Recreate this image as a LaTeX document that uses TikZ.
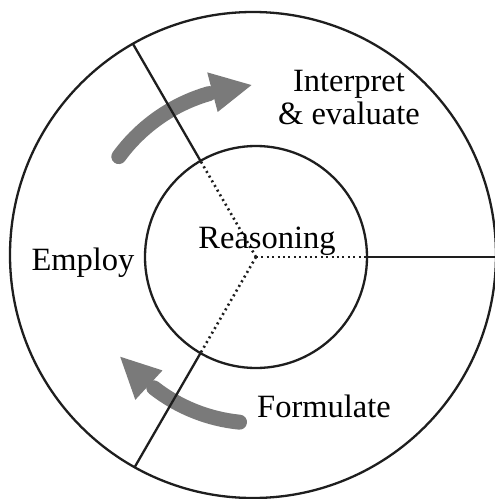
\documentclass[tikz,border=0pt]{standalone}
\usepackage{fontspec}
\setmainfont{Liberation Serif}
\definecolor{arrowgray}{RGB}{122,122,122}
\definecolor{inkline}{RGB}{30,30,30}
\begin{document}
\begin{tikzpicture}[x=1pt,y=1pt,
  ring/.style={draw=inkline, line width=2.3pt, circle, inner sep=0pt},
  spoke/.style={draw=inkline, line width=2.3pt},
  dots/.style={draw=inkline, line width=2.6pt, dash pattern=on 2pt off 3.4pt},
  flow/.style={draw=arrowgray, line width=15pt, line cap=round},
  flowhead/.style={fill=arrowgray, draw=none},
  lbl/.style={font=\fontsize{32.5}{33}\selectfont, inner sep=0pt, text=black}]
\useasboundingbox (-256,-242) rectangle (239,257);
\fill[white] (-256,-242) rectangle (239,257);
% arrows
\draw[flow] (143.8:170) arc[start angle=143.8, end angle=106, radius=170];
\fill[flowhead] (104.8:191) -- (91.5:172) -- (104.8:150) -- cycle;
\draw[flow] (264.3:166) arc[start angle=264.3, end angle=232, radius=166];
\fill[flowhead] (229.8:187) -- (216.3:168.5) -- (230.5:147) -- cycle;
% circles
\node[ring, minimum size=222pt] (inner) at (0,0) {};
\node[ring, minimum size=486pt] (outer) at (-3,2) {};
% spokes
\coordinate (hub) at (0,0);
\coordinate (i0) at (0:111);
\coordinate (o0) at (0:240);
\coordinate (i1) at (120:111);
\coordinate (o1) at (120:246.2);
\coordinate (i2) at (240:111);
\coordinate (o2) at (240:242.8);
\draw[dots] (hub) -- (i0);
\draw[dots] (hub) -- (i1);
\draw[dots] (hub) -- (i2);
\draw[spoke] (i0) -- (o0);
\draw[spoke] (i1) -- (o1);
\draw[spoke] (i2) -- (o2);
% labels
\node[lbl, align=center] (interp) at (93,159) {Interpret\\\& evaluate};
\node[lbl, anchor=base] (reason) at (11,9) {Reasoning};
\node[lbl, anchor=base] (employ) at (-173,-13) {Employ};
\node[lbl, anchor=base] (formul) at (68,-160) {Formulate};
\end{tikzpicture}
\end{document}
